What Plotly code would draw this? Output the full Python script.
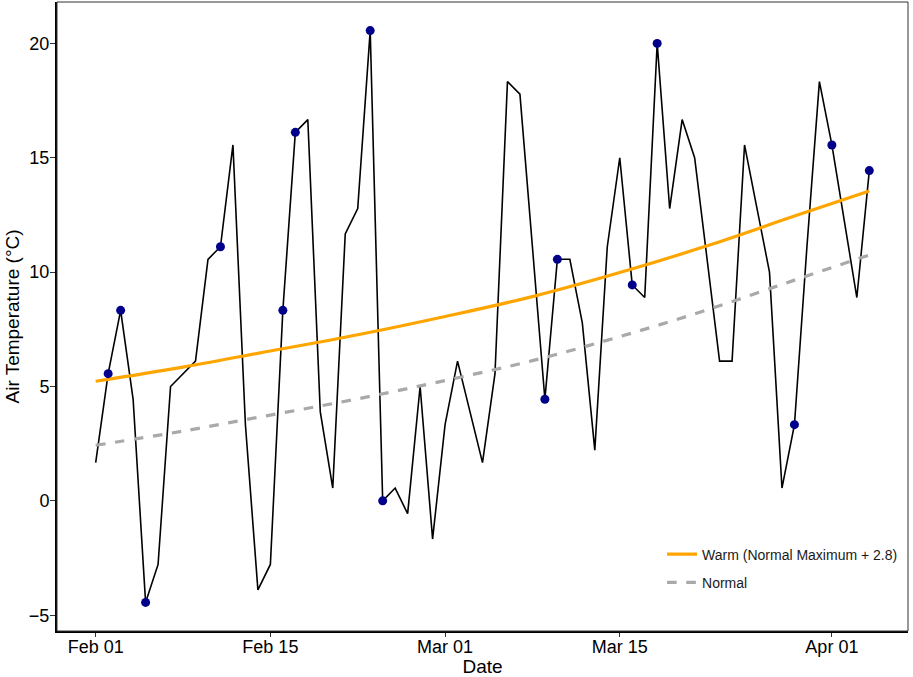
import pandas as pd
import plotly.graph_objects as go

# daily air temperature, Feb 01 - Apr 03 (deg C)
start_date = "2023-02-01"
air_temp = [
    1.67, 5.56, 8.33, 4.44, -4.44, -2.78, 5.00, 5.56, 6.11, 10.56,
    11.11, 15.56, 3.33, -3.89, -2.78, 8.33, 16.11, 16.67, 3.89, 0.56,
    11.67, 12.78, 20.56, 0.00, 0.56, -0.56, 5.00, -1.67, 3.33, 6.11,
    3.89, 1.67, 5.56, 18.33, 17.78, 11.11, 4.44, 10.56, 10.56, 7.78,
    2.22, 11.11, 15.00, 9.44, 8.89, 20.00, 12.78, 16.67, 15.00, 10.56,
    6.11, 6.11, 15.56, 12.78, 10.00, 0.56, 3.33, 11.11, 18.33, 15.56,
    12.22, 8.89, 14.44,
]
# days (index from Feb 01) that get a dot
marked_days = [1, 2, 4, 10, 15, 16, 22, 23, 36, 37, 43, 45, 56, 59, 62]

# normal maximum
normal_days = [0, 7, 14, 21, 28, 35, 42, 49, 56, 62]
normal_max = [2.43, 3.05, 3.75, 4.46, 5.26, 6.13, 7.18, 8.35, 9.65, 10.75]
warm_offset = 2.8

tick_dates = ["2023-02-01", "2023-02-15", "2023-03-01", "2023-03-15", "2023-04-01"]
tick_text = ["Feb 01", "Feb 15", "Mar 01", "Mar 15", "Apr 01"]

dates = pd.date_range(start_date, periods=len(air_temp), freq="D")
t0 = pd.Timestamp(start_date)
normal_dates = [t0 + pd.Timedelta(days=d) for d in normal_days]
warm = [v + warm_offset for v in normal_max]

fig = go.Figure()
fig.add_trace(go.Scatter(x=dates, y=air_temp, mode="lines",
                         line=dict(color="black", width=1.6), showlegend=False))
fig.add_trace(go.Scatter(x=normal_dates, y=warm, mode="lines",
                         name="Warm (Normal Maximum + 2.8)", legendgroup="w",
                         line=dict(color="#FFA500", width=3.2, shape="spline")))
fig.add_trace(go.Scatter(x=normal_dates, y=normal_max, mode="lines",
                         name="Normal", legendgroup="n",
                         line=dict(color="#A9A9A9", width=3.2, dash="dash", shape="spline")))
fig.add_trace(go.Scatter(x=[dates[i] for i in marked_days],
                         y=[air_temp[i] for i in marked_days], mode="markers",
                         marker=dict(color="#00008B", size=9), showlegend=False))

x_lo = t0 - pd.Timedelta(days=3.1)
x_hi = t0 + pd.Timedelta(days=65.1)

# thin panel border; left/bottom axis lines are drawn heavier below
fig.add_shape(type="rect", xref="paper", yref="paper", x0=0, y0=0, x1=1, y1=1,
              line=dict(color="#333333", width=1), layer="above")

# y title as an annotation so it can sit closer to the edge
fig.add_annotation(text="Air Temperature (°C)", textangle=-90, showarrow=False,
                   xref="paper", yref="paper", x=0, y=0.5, xanchor="center",
                   xshift=-45, font=dict(size=19))

fig.update_layout(
    width=913, height=677,
    margin=dict(l=57, r=5, t=2, b=46, autoexpand=False),
    plot_bgcolor="white", paper_bgcolor="white",
    font=dict(family="Liberation Sans, Arial, sans-serif", color="black", size=18),
    legend=dict(x=0.711, y=0.147, xanchor="left", yanchor="top",
                bgcolor="rgba(0,0,0,0)", font=dict(size=14, color="#1a1a1a"),
                tracegroupgap=7),
)
fig.update_xaxes(
    range=[x_lo, x_hi], tickvals=tick_dates, ticktext=tick_text,
    showgrid=False, zeroline=False, showline=True, mirror=False,
    linecolor="black", linewidth=2, ticks="outside", ticklen=4,
    tickcolor="#333333", tickfont=dict(size=18), ticklabelstandoff=-6,
    automargin=False,
    title=dict(text="Date", font=dict(size=19), standoff=0),
)
fig.update_yaxes(
    range=[-5.69, 21.81], tickvals=[-5, 0, 5, 10, 15, 20],
    showgrid=False, zeroline=False, showline=True, mirror=False,
    linecolor="black", linewidth=2, ticks="outside", ticklen=5,
    tickcolor="#333333", tickfont=dict(size=18), ticklabelstandoff=-3,
    automargin=False,
)

# drop the browser's default 8px body margin so the figure sits at the page corner
fig.write_html("out.html", config={"displayModeBar": False},
               post_script="document.body.style.margin='0';")
